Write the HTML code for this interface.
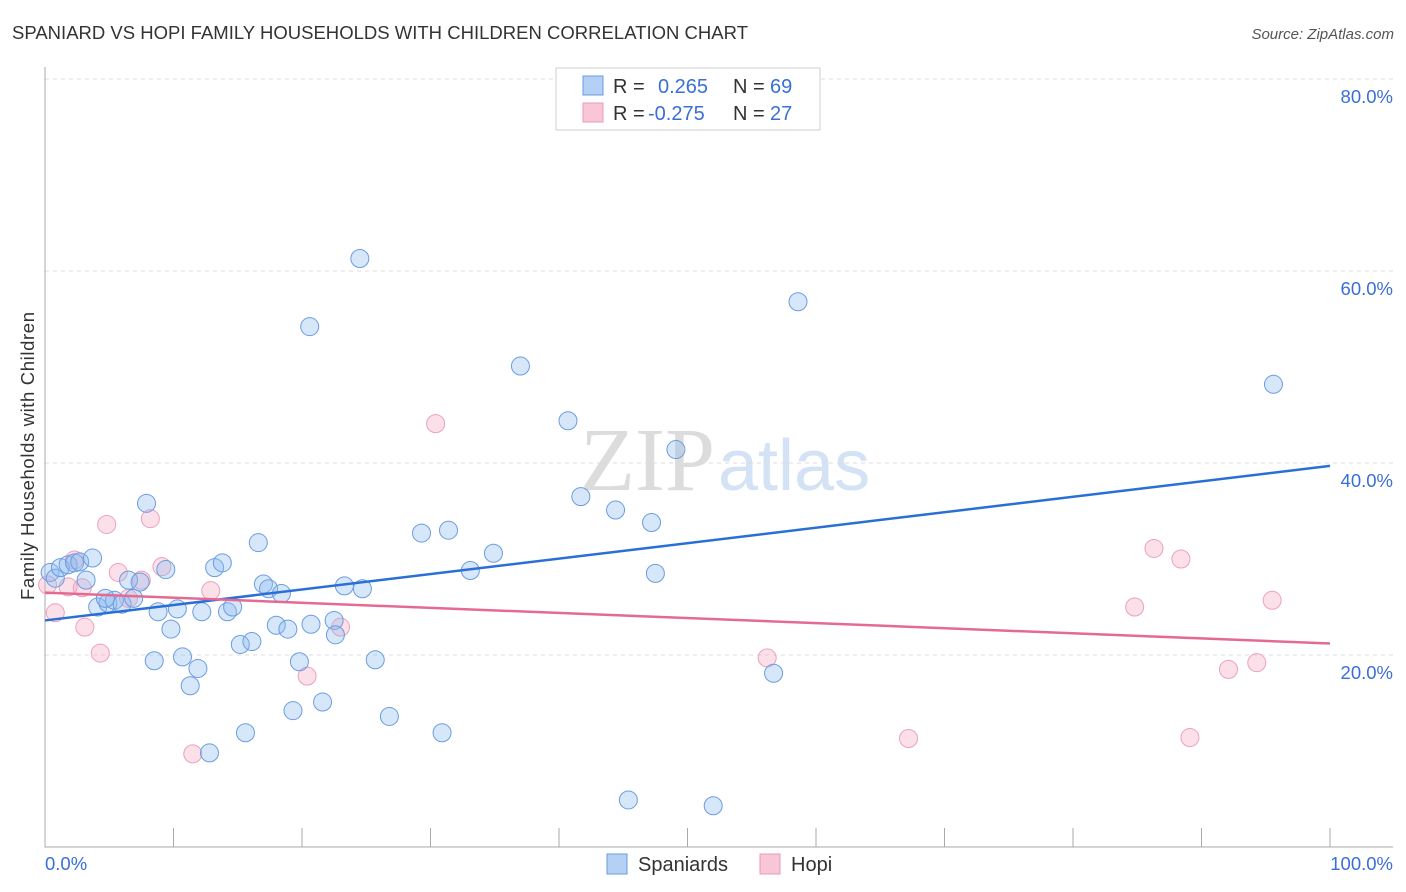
<!DOCTYPE html>
<html><head><meta charset="utf-8"><style>
body{margin:0;background:#fff;font-family:"Liberation Sans",sans-serif;}
svg{display:block}
</style></head><body>
<svg id="c" width="1406" height="892" xmlns="http://www.w3.org/2000/svg">
<text x="12" y="39" font-size="18.5" fill="#333" textLength="736">SPANIARD VS HOPI FAMILY HOUSEHOLDS WITH CHILDREN CORRELATION CHART</text>
<text x="1394" y="39" font-size="15" fill="#555" font-style="italic" text-anchor="end">Source: ZipAtlas.com</text>
<text x="715" y="490" font-size="90" fill="#dcdcdc" text-anchor="end" font-family="Liberation Serif,serif">ZIP</text>
<text x="718" y="490" font-size="72" fill="#d3e2f5">atlas</text>
<g id="grid"></g><g id="axes"></g><g id="marks"></g>
<text x="34" y="456" font-size="18.5" fill="#333" text-anchor="middle" textLength="288" transform="rotate(-90 34 456)">Family Households with Children</text>
<g>
<rect x="556" y="68" width="264" height="62" fill="#fff" stroke="#ccc"/>
<rect x="583" y="76" width="20" height="19" fill="#b5d0f5" stroke="#6a9ae0"/>
<rect x="583" y="103" width="20" height="19" fill="#f9c6d6" stroke="#eb9ab5"/>
<text x="613" y="93" font-size="20" fill="#333">R = </text><text x="658" y="93" font-size="20" fill="#3a6fd8">0.265</text>
<text x="733" y="93" font-size="20" fill="#333">N = </text><text x="770" y="93" font-size="20" fill="#3a6fd8">69</text>
<text x="613" y="120" font-size="20" fill="#333">R = </text><text x="648" y="120" font-size="20" fill="#3a6fd8">-0.275</text>
<text x="733" y="120" font-size="20" fill="#333">N = </text><text x="770" y="120" font-size="20" fill="#3a6fd8">27</text>
</g>
<g>
<rect x="607" y="854" width="20" height="20" fill="#b5d0f5" stroke="#6a9ae0"/>
<text x="638" y="871" font-size="20" fill="#333">Spaniards</text>
<rect x="760" y="854" width="20" height="20" fill="#f9c6d6" stroke="#eb9ab5"/>
<text x="791" y="871" font-size="20" fill="#333">Hopi</text>
</g>
</svg>
<script>
const yTicks=[20,40,60,80];
const yTickLabels=["20.0%","40.0%","60.0%","80.0%"];
const xTickLabels=["0.0%","100.0%"];
const blueX=[0.4,0.8,1.2,1.8,2.3,2.7,3.7,3.2,4.1,4.9,5.4,6.0,4.7,6.9,6.5,7.4,7.9,9.4,8.5,8.8,9.8,10.3,10.7,11.3,11.9,12.2,12.8,13.2,13.8,14.2,14.6,15.2,15.6,16.1,16.6,17.0,17.4,18.0,18.4,18.9,19.3,19.8,20.6,20.7,21.6,22.5,22.6,23.3,24.5,24.7,25.7,26.8,29.3,30.9,31.4,33.1,34.9,37.0,40.7,41.7,44.4,45.4,47.2,47.5,49.1,52.0,56.7,58.6,95.6];
const blueY=[28.6,28.0,29.1,29.4,29.6,29.7,30.1,27.8,25.0,25.4,25.7,25.3,25.9,25.9,27.8,27.6,35.8,28.9,19.4,24.5,22.7,24.8,19.8,16.8,18.6,24.5,9.8,29.1,29.6,24.5,25.0,21.1,11.9,21.4,31.7,27.4,26.9,23.1,26.4,22.7,14.2,19.3,54.2,23.2,15.1,23.6,22.1,27.2,61.3,26.9,19.5,13.6,32.7,11.9,33.0,28.8,30.6,50.1,44.4,36.5,35.1,4.9,33.8,28.5,41.4,4.3,18.1,56.8,48.2];
const pinkX=[0.2,0.8,1.8,2.3,2.9,3.1,4.3,4.8,5.7,6.5,7.5,8.2,9.1,11.5,12.9,20.4,23.0,30.4,56.2,67.2,84.8,86.3,88.4,89.1,92.1,94.3,95.5];
const pinkY=[27.3,24.4,27.1,29.9,27.0,22.9,20.2,33.6,28.6,25.9,27.8,34.2,29.2,9.7,26.7,17.8,22.9,44.1,19.7,11.3,25.0,31.1,30.0,11.4,18.5,19.2,25.7];
const blueTrend=[23.6,39.7];
const pinkTrend=[26.5,21.2];
const NS="http://www.w3.org/2000/svg";
const X=v=>45+v*12.85, Y=v=>847-v*9.6;
function mk(t,a,p){const e=document.createElementNS(NS,t);for(const k in a)e.setAttribute(k,a[k]);p.appendChild(e);return e;}
const grid=document.getElementById('grid'),axes=document.getElementById('axes'),marks=document.getElementById('marks');
yTicks.forEach((t,i)=>{
 const l=mk('line',{x1:45,x2:1393,y1:Y(t),y2:Y(t),stroke:'#ddd','stroke-dasharray':'4,4'},grid);
 
 
 const tx=mk('text',{x:1393,y:Y(t)+24,'font-size':18.5,fill:'#3a6fd8','text-anchor':'end'},axes);tx.textContent=yTickLabels[i];
 
 
});
const ax=mk('path',{d:'M45 67V847H1393',stroke:'#aaa',fill:'none'},axes);


for(let i=1;i<=10;i++){const tk=mk('line',{x1:X(i*10),x2:X(i*10),y1:828,y2:847,stroke:'#aaa'},axes);
 
 }
xTickLabels.forEach((s,i)=>{const t=mk('text',{x:i?1393:45,y:870,'font-size':18.5,fill:'#3a6fd8','text-anchor':i?'end':'start'},axes);t.textContent=s;
 
 });
function pts(xs,ys,fill,stroke,name){xs.forEach((x,i)=>{const c=mk('circle',{cx:X(x),cy:Y(ys[i]),r:9,fill:fill,stroke:stroke,'stroke-width':1},marks);
 
 });}
pts(pinkX,pinkY,'rgba(245,165,192,0.35)','#eca0ba','hopi-point');
pts(blueX,blueY,'rgba(140,185,240,0.35)','#6b9ce0','spaniard-point');
const bl=mk('line',{x1:X(0),x2:X(100),y1:Y(blueTrend[0]),y2:Y(blueTrend[1]),stroke:'#2a6fd6','stroke-width':2.5},marks);


const pl=mk('line',{x1:X(0),x2:X(100),y1:Y(pinkTrend[0]),y2:Y(pinkTrend[1]),stroke:'#e56a93','stroke-width':2.5},marks);


</script>
</body></html>
